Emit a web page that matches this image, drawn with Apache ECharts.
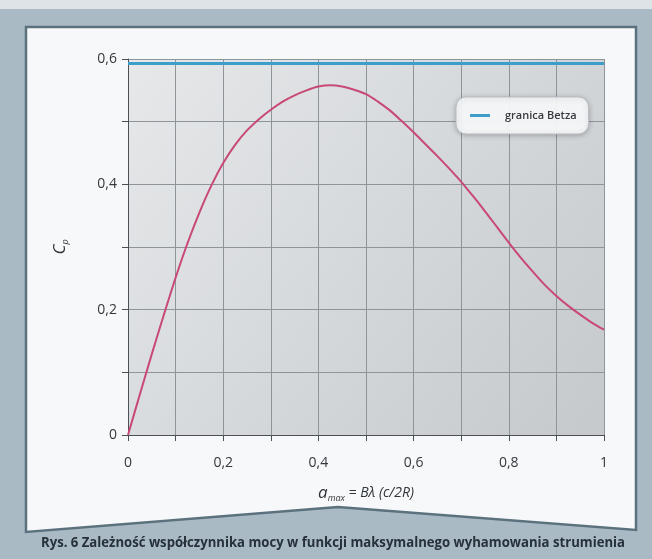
<!DOCTYPE html>
<html>
<head>
<meta charset="utf-8">
<script src="https://cdn.jsdelivr.net/npm/echarts@6/dist/echarts.min.js"></script>
<style>
  html, body { margin: 0; padding: 0; background: #a9bac4; }
  #chart { width: 652px; height: 559px; }
</style>
</head>
<body>
<div id="chart"></div>
<script>
// Axial induction factor a_max and power coefficient Cp
const aValues = [0, 0.025, 0.05, 0.075, 0.1, 0.125, 0.15, 0.175, 0.2, 0.225, 0.25, 0.275, 0.3,
                 0.325, 0.35, 0.375, 0.4, 0.425, 0.45, 0.475, 0.5, 0.525, 0.55, 0.575, 0.6,
                 0.625, 0.65, 0.675, 0.7, 0.725, 0.75, 0.775, 0.8, 0.825, 0.85, 0.875, 0.9,
                 0.925, 0.95, 0.975, 1];
const cpValues = [0, 0.065, 0.129, 0.191, 0.251, 0.306, 0.355, 0.398, 0.434, 0.463, 0.486, 0.504, 0.519,
                  0.532, 0.542, 0.550, 0.556, 0.558, 0.556, 0.551, 0.544, 0.532, 0.518, 0.501, 0.483,
                  0.464, 0.445, 0.425, 0.404, 0.381, 0.357, 0.332, 0.307, 0.283, 0.261, 0.240, 0.222,
                  0.206, 0.192, 0.179, 0.168];
// Betz limit 16/27
const betzLimit = 0.593;
const xTickLabels = ['0', '0,2', '0,4', '0,6', '0,8', '1'];
const yTickLabels = ['0', '0,2', '0,4', '0,6'];
const captionText = 'Rys. 6 Zależność współczynnika mocy w funkcji maksymalnego wyhamowania strumienia';

const FONT = "'Open Sans', 'Noto Sans', sans-serif";

function fmt(v, labels) {
  const r = Math.round(v * 10);
  if (r % 2 !== 0) return '';
  return labels[r / 2] || '';
}

// Squeeze caption horizontally into its band
const captionFont = "bold 15px 'Open Sans'";
const ctx = document.createElement('canvas').getContext('2d');
ctx.font = captionFont;
const captionWidth = ctx.measureText(captionText).width;
const captionScale = Math.min(1, 584 / captionWidth);

const chart = echarts.init(document.getElementById('chart'), null, { renderer: 'canvas' });

chart.setOption({
  animation: false,
  backgroundColor: '#a9bac4',
  graphic: [
    { type: 'rect', z: -10, shape: { x: 0, y: 0, width: 652, height: 9 }, style: { fill: '#dde3e6' } },
    {
      type: 'polygon', z: -9,
      shape: { points: [[26, 27], [636, 27], [636, 530], [338, 507], [26, 532]] },
      style: { fill: '#f7f8f9', stroke: '#5b717d', lineWidth: 2.5 }
    },
    {
      type: 'text', z: 10,
      x: 333, y: 543, scaleX: captionScale, scaleY: 1,
      style: {
        text: captionText, font: captionFont, fill: '#26313a',
        align: 'center', verticalAlign: 'middle'
      }
    }
  ],
  grid: {
    left: 128, right: 48, top: 59, bottom: 124,
    show: true, borderWidth: 0,
    backgroundColor: new echarts.graphic.LinearGradient(0, 0, 1, 1, [
      { offset: 0, color: '#e6e8ea' },
      { offset: 1, color: '#c5c9cc' }
    ])
  },
  legend: {
    data: ['granica Betza'],
    left: 456, top: 97,
    padding: [13, 12, 13, 14],
    backgroundColor: 'rgba(250,251,252,0.92)',
    borderColor: '#b8bec3', borderWidth: 1, borderRadius: 10,
    shadowBlur: 5, shadowColor: 'rgba(0,0,0,0.25)', shadowOffsetY: 1,
    itemWidth: 20, itemHeight: 3, icon: 'rect',
    textStyle: { fontFamily: FONT, fontSize: 11, fontWeight: 600, color: '#353a3f', padding: [0, 0, 0, 10] }
  },
  xAxis: {
    type: 'value', min: 0, max: 1, interval: 0.1,
    axisLine: { show: true, onZero: false, lineStyle: { color: '#4a5056', width: 1 } },
    axisTick: { show: true, length: 6, lineStyle: { color: '#4a5056' } },
    splitLine: { show: true, lineStyle: { color: '#8d959b', width: 1 } },
    axisLabel: {
      margin: 21, fontFamily: FONT, fontSize: 14, color: '#33393e',
      formatter: v => fmt(v, xTickLabels)
    },
    name: '{a|a}{s|max}{t| = Bλ (c/2R)}',
    nameLocation: 'middle', nameGap: 48,
    nameTextStyle: {
      rich: {
        a: { fontFamily: FONT, fontSize: 17, fontStyle: 'italic', color: '#2f353a', lineHeight: 20, verticalAlign: 'middle' },
        s: { fontFamily: FONT, fontSize: 9, fontStyle: 'italic', color: '#2f353a', lineHeight: 10, verticalAlign: 'bottom' },
        t: { fontFamily: FONT, fontSize: 14, fontStyle: 'italic', color: '#2f353a', lineHeight: 20, verticalAlign: 'middle' }
      }
    }
  },
  yAxis: {
    type: 'value', min: 0, max: 0.6, interval: 0.1,
    axisLine: { show: true, lineStyle: { color: '#4a5056', width: 1 } },
    axisTick: { show: true, length: 6, lineStyle: { color: '#4a5056' } },
    splitLine: { show: true, lineStyle: { color: '#8d959b', width: 1 } },
    axisLabel: {
      margin: 11, fontFamily: FONT, fontSize: 14, color: '#33393e',
      formatter: v => fmt(v, yTickLabels)
    },
    name: '{c|C}{p|p}',
    nameLocation: 'middle', nameGap: 58, nameRotate: 90,
    nameTextStyle: {
      rich: {
        c: { fontFamily: FONT, fontSize: 17, fontStyle: 'italic', color: '#2f353a', lineHeight: 20, verticalAlign: 'middle' },
        p: { fontFamily: FONT, fontSize: 9, fontStyle: 'italic', color: '#2f353a', lineHeight: 10, verticalAlign: 'bottom' }
      }
    }
  },
  series: [
    {
      name: 'granica Betza', type: 'line',
      data: [[0, betzLimit], [1, betzLimit]],
      symbol: 'none', color: '#3d9ec9',
      lineStyle: { color: '#3d9ec9', width: 3 }, z: 3
    },
    {
      name: 'Cp', type: 'line',
      data: aValues.map((a, i) => [a, cpValues[i]]),
      smooth: 0.3, symbol: 'none', color: '#c84876',
      lineStyle: { color: '#c84876', width: 2 }, z: 4
    }
  ]
});
</script>
</body>
</html>
